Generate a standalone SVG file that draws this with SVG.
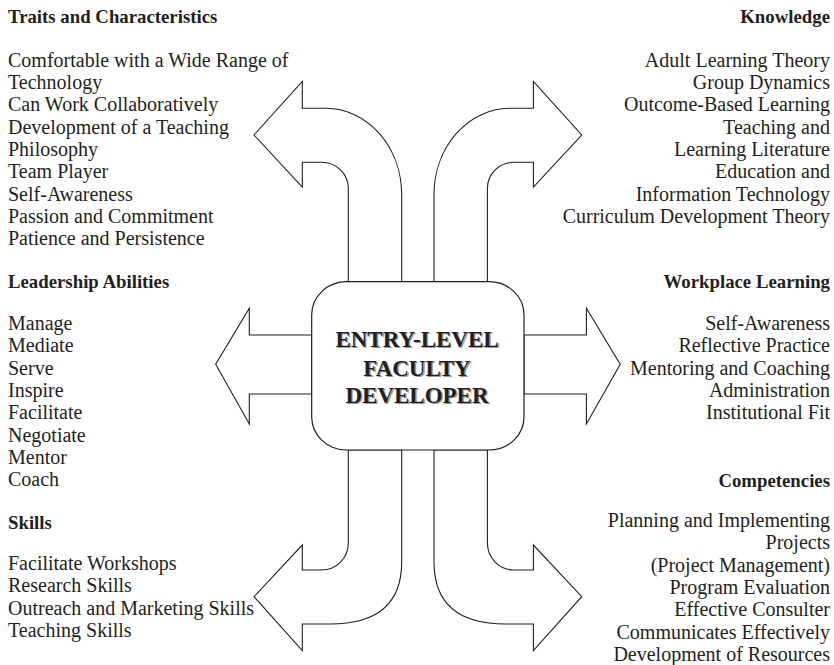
<svg xmlns="http://www.w3.org/2000/svg" width="834" height="665" viewBox="0 0 834 665">
<style>
  .arrow { fill: #ffffff; stroke: #231f20; stroke-width: 1.1; stroke-linejoin: miter; }
  .box { fill: #ffffff; stroke: #231f20; stroke-width: 1.2; }
  .h { font-family: "Liberation Serif", "Times New Roman", serif; font-weight: bold; font-size: 18.8px; fill: #231f20; }
  .b { font-family: "Liberation Serif", "Times New Roman", serif; font-size: 20px; fill: #231f20; }
  .r { text-anchor: end; }
  .c { font-family: "Liberation Serif", "Times New Roman", serif; font-weight: bold; font-size: 23px; text-anchor: middle; }
  .shadow { fill: #9a9a9a; }
  .main { fill: #231f20; }
</style>
<rect width="834" height="665" fill="#ffffff"/>
<g id="connectors">
  <path class="arrow" d="M 401.7 281.7 L 401.7 195 A 75.7 86.7 0 0 0 326 108.3 L 302.3 108.3 L 302.3 81.5 L 254 135 L 302.3 187 L 302.3 162.3 L 321.7 162.3 A 26.6 26 0 0 1 348.3 188.3 L 348.3 281.7 Z"/>
  <path class="arrow" d="M 434 281.7 L 434 195 A 75.7 86.7 0 0 1 509.7 108.3 L 533.4 108.3 L 533.4 81.5 L 581.7 135 L 533.4 187 L 533.4 162.3 L 514 162.3 A 26.6 26 0 0 0 487.4 188.3 L 487.4 281.7 Z"/>
  <path class="arrow" d="M 249.3 335 L 311.7 335 L 311.7 394 L 249.3 394 L 249.3 424 L 215.7 364.3 L 249.3 308.3 Z"/>
  <path class="arrow" d="M 586.4 335 L 524 335 L 524 394 L 586.4 394 L 586.4 424 L 620.2 364.3 L 586.4 308.3 Z"/>
  <path class="arrow" d="M 401.7 450 L 401.7 562 C 401.7 602 380 624 330 624 L 302.3 624 L 302.3 650.5 L 254 596.7 L 302.3 545 L 302.3 570 L 321.7 570 A 26.6 27 0 0 0 348.3 543 L 348.3 450 Z"/>
  <path class="arrow" d="M 434 450 L 434 562 C 434 602 455.7 624 505.7 624 L 533.4 624 L 533.4 650.5 L 581.7 596.7 L 533.4 545 L 533.4 570 L 514 570 A 26.6 27 0 0 1 487.4 543 L 487.4 450 Z"/>
</g>
<g id="center-node">
  <rect class="box" x="311.7" y="281.7" width="212.3" height="168.3" rx="35" ry="33"/>
  <text class="c shadow" x="418.4" y="347.7">ENTRY-LEVEL</text>
  <text class="c shadow" x="418.4" y="376.7">FACULTY</text>
  <text class="c shadow" x="418.4" y="404">DEVELOPER</text>
  <text class="c main" x="417" y="346.5">ENTRY-LEVEL</text>
  <text class="c main" x="417" y="375.5">FACULTY</text>
  <text class="c main" x="417" y="402.8">DEVELOPER</text>
</g>
<g id="traits">
  <text class="h" x="8" y="23.3">Traits and Characteristics</text>
  <text class="b" x="8" y="66.7">Comfortable with a Wide Range of</text>
  <text class="b" x="8" y="89">Technology</text>
  <text class="b" x="8" y="111.3">Can Work Collaboratively</text>
  <text class="b" x="8" y="133.6">Development of a Teaching</text>
  <text class="b" x="8" y="155.9">Philosophy</text>
  <text class="b" x="8" y="178.2">Team Player</text>
  <text class="b" x="8" y="200.5">Self-Awareness</text>
  <text class="b" x="8" y="222.8">Passion and Commitment</text>
  <text class="b" x="8" y="245.1">Patience and Persistence</text>
</g>
<g id="leadership">
  <text class="h" x="8" y="288.3">Leadership Abilities</text>
  <text class="b" x="8" y="330">Manage</text>
  <text class="b" x="8" y="352.3">Mediate</text>
  <text class="b" x="8" y="374.6">Serve</text>
  <text class="b" x="8" y="396.9">Inspire</text>
  <text class="b" x="8" y="419.2">Facilitate</text>
  <text class="b" x="8" y="441.5">Negotiate</text>
  <text class="b" x="8" y="463.8">Mentor</text>
  <text class="b" x="8" y="486.1">Coach</text>
</g>
<g id="skills">
  <text class="h" x="8" y="529.3">Skills</text>
  <text class="b" x="8" y="570">Facilitate Workshops</text>
  <text class="b" x="8" y="592.3">Research Skills</text>
  <text class="b" x="8" y="614.6">Outreach and Marketing Skills</text>
  <text class="b" x="8" y="636.9">Teaching Skills</text>
</g>
<g id="knowledge">
  <text class="h r" x="830" y="23.3">Knowledge</text>
  <text class="b r" x="830" y="66.7">Adult Learning Theory</text>
  <text class="b r" x="830" y="89">Group Dynamics</text>
  <text class="b r" x="830" y="111.3">Outcome-Based Learning</text>
  <text class="b r" x="830" y="133.6">Teaching and</text>
  <text class="b r" x="830" y="155.9">Learning Literature</text>
  <text class="b r" x="830" y="178.2">Education and</text>
  <text class="b r" x="830" y="200.5">Information Technology</text>
  <text class="b r" x="830" y="222.8">Curriculum Development Theory</text>
</g>
<g id="workplace">
  <text class="h r" x="830" y="288.3">Workplace Learning</text>
  <text class="b r" x="830" y="330">Self-Awareness</text>
  <text class="b r" x="830" y="352.3">Reflective Practice</text>
  <text class="b r" x="830" y="374.6">Mentoring and Coaching</text>
  <text class="b r" x="830" y="396.9">Administration</text>
  <text class="b r" x="830" y="419.2">Institutional Fit</text>
</g>
<g id="competencies">
  <text class="h r" x="830" y="486.7">Competencies</text>
  <text class="b r" x="830" y="527">Planning and Implementing</text>
  <text class="b r" x="830" y="549.3">Projects</text>
  <text class="b r" x="830" y="571.6">(Project Management)</text>
  <text class="b r" x="830" y="593.9">Program Evaluation</text>
  <text class="b r" x="830" y="616.2">Effective Consulter</text>
  <text class="b r" x="830" y="638.5">Communicates Effectively</text>
  <text class="b r" x="830" y="660.8">Development of Resources</text>
</g>
</svg>
